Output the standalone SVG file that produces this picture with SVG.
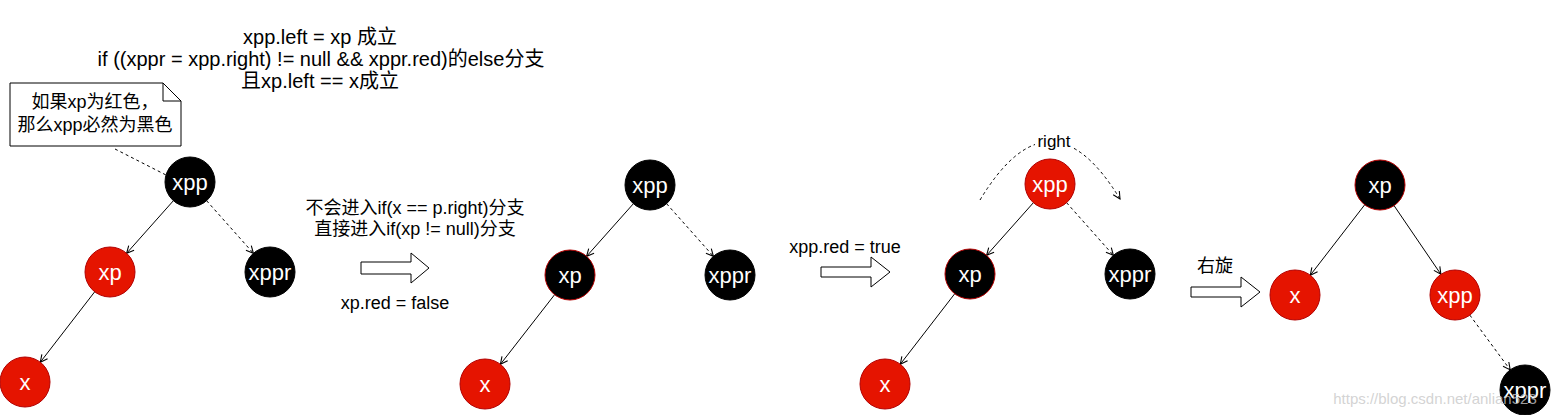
<svg xmlns="http://www.w3.org/2000/svg" width="1551" height="415" viewBox="0 0 1551 415">
<style>
.t{font-family:"Liberation Sans","Noto Sans CJK SC",sans-serif;font-size:18px;fill:#000;text-anchor:middle}
.tt{font-size:20px}
.n{font-family:"Liberation Sans",sans-serif;font-size:22px;fill:#fff;text-anchor:middle;dominant-baseline:central}
.blk{fill:#000;stroke:#000}
.blkr{fill:#000;stroke:#B20000}
.red{fill:#E51400;stroke:#B20000}
.e{stroke:#000;stroke-width:1;fill:none;marker-end:url(#ah)}
.d{stroke-dasharray:3 3}
.ba{fill:#fff;stroke:#000;stroke-width:1}
</style>
<defs>
<marker id="ah" viewBox="0 0 10 10" refX="9" refY="5" markerWidth="9" markerHeight="9" markerUnits="userSpaceOnUse" orient="auto">
<path d="M1,1 L9,5 L1,9" fill="none" stroke="#000" stroke-width="1.2"/>
</marker>
</defs>
<rect width="1551" height="415" fill="#fff"/>

<g id="title">
<text class="t tt" x="320" y="44">xpp.left = xp 成立</text>
<text class="t tt" x="321" y="66">if ((xppr = xpp.right) != null &amp;&amp; xppr.red)的else分支</text>
<text class="t tt" x="320" y="88">且xp.left == x成立</text>
</g>

<g id="note">
<path d="M10,83 H163 L181,101 V146 H10 Z" fill="#fff" stroke="#000"/>
<path d="M163,83 V101 H181" fill="none" stroke="#000"/>
<text class="t" x="95" y="108">如果xp为红色，</text>
<text class="t" x="95" y="131">那么xpp必然为黑色</text>
</g>

<g id="connectors">
<line x1="115" y1="149" x2="166" y2="175" stroke="#000" class="d"/>
<line class="e" x1="173.4" y1="200.7" x2="126.6" y2="253.3"/>
<line class="e d" x1="206.6" y1="200.7" x2="253.4" y2="253.3"/>
<line class="e" x1="94.7" y1="291.8" x2="40.3" y2="362.2"/>

<line class="e" x1="633.4" y1="203.7" x2="586.6" y2="256.3"/>
<line class="e d" x1="666.6" y1="203.7" x2="713.4" y2="256.3"/>
<line class="e" x1="554.6" y1="294.7" x2="500.4" y2="364.3"/>

<line class="e" x1="1033.4" y1="202.7" x2="986.6" y2="255.3"/>
<line class="e d" x1="1066.6" y1="202.7" x2="1113.4" y2="255.3"/>
<line class="e" x1="954.7" y1="293.8" x2="900.3" y2="364.2"/>
<path class="e d" d="M980,200 Q1050,84 1120,199"/>

<line class="e" x1="1364.7" y1="204.8" x2="1310.3" y2="275.2"/>
<line class="e" x1="1394.1" y1="205.7" x2="1440.9" y2="274.3"/>
<line class="e d" x1="1469.8" y1="315.1" x2="1510.2" y2="369.9"/>
</g>

<g id="rightlabel">
<rect x="1035" y="132" width="38" height="18" fill="#fff"/>
<text class="t" x="1054" y="147" style="font-size:17px">right</text>
</g>

<g id="step1">
<path class="ba" d="M361,262 H411 V253 L429,268 L411,283 V274 H361 Z"/>
<text class="t" x="415" y="214">不会进入if(x == p.right)分支</text>
<text class="t" x="415" y="235">直接进入if(xp != null)分支</text>
<text class="t" x="395" y="309">xp.red = false</text>
</g>
<g id="step2">
<path class="ba" d="M821,267 H871 V257 L890,272 L871,287 V277 H821 Z"/>
<text class="t" x="845" y="253">xpp.red = true</text>
</g>
<g id="step3">
<path class="ba" d="M1191,287 H1241 V277 L1260,292 L1241,307 V297 H1191 Z"/>
<text class="t" x="1215" y="272">右旋</text>
</g>

<g id="p1-xpp"><circle class="blk" cx="190" cy="182" r="25"/><text class="n" x="190" y="182">xpp</text></g>
<g id="p1-xp"><circle class="red" cx="110" cy="272" r="25"/><text class="n" x="110" y="272">xp</text></g>
<g id="p1-xppr"><circle class="blk" cx="270" cy="272" r="25"/><text class="n" x="270" y="272">xppr</text></g>
<g id="p1-x"><circle class="red" cx="25" cy="382" r="25"/><text class="n" x="25" y="382">x</text></g>

<g id="p2-xpp"><circle class="blk" cx="650" cy="185" r="25"/><text class="n" x="650" y="185">xpp</text></g>
<g id="p2-xp"><circle class="blkr" cx="570" cy="275" r="25"/><text class="n" x="570" y="275">xp</text></g>
<g id="p2-xppr"><circle class="blk" cx="730" cy="275" r="25"/><text class="n" x="730" y="275">xppr</text></g>
<g id="p2-x"><circle class="red" cx="485" cy="384" r="25"/><text class="n" x="485" y="384">x</text></g>

<g id="p3-xpp"><circle class="red" cx="1050" cy="184" r="25"/><text class="n" x="1050" y="184">xpp</text></g>
<g id="p3-xp"><circle class="blkr" cx="970" cy="274" r="25"/><text class="n" x="970" y="274">xp</text></g>
<g id="p3-xppr"><circle class="blk" cx="1130" cy="274" r="25"/><text class="n" x="1130" y="274">xppr</text></g>
<g id="p3-x"><circle class="red" cx="885" cy="384" r="25"/><text class="n" x="885" y="384">x</text></g>

<g id="p4-xp"><circle class="blkr" cx="1380" cy="185" r="25"/><text class="n" x="1380" y="185">xp</text></g>
<g id="p4-x"><circle class="red" cx="1295" cy="295" r="25"/><text class="n" x="1295" y="295">x</text></g>
<g id="p4-xpp"><circle class="red" cx="1455" cy="295" r="25"/><text class="n" x="1455" y="295">xpp</text></g>
<g id="p4-xppr"><circle class="blk" cx="1525" cy="390" r="25"/><text class="n" x="1525" y="390">xppr</text></g>

<text x="1435" y="404" font-family="Liberation Sans,sans-serif" font-size="15" fill="#c8c8c8" fill-opacity="0.8" text-anchor="middle">https://blog.csdn.net/anlian523</text>
</svg>
